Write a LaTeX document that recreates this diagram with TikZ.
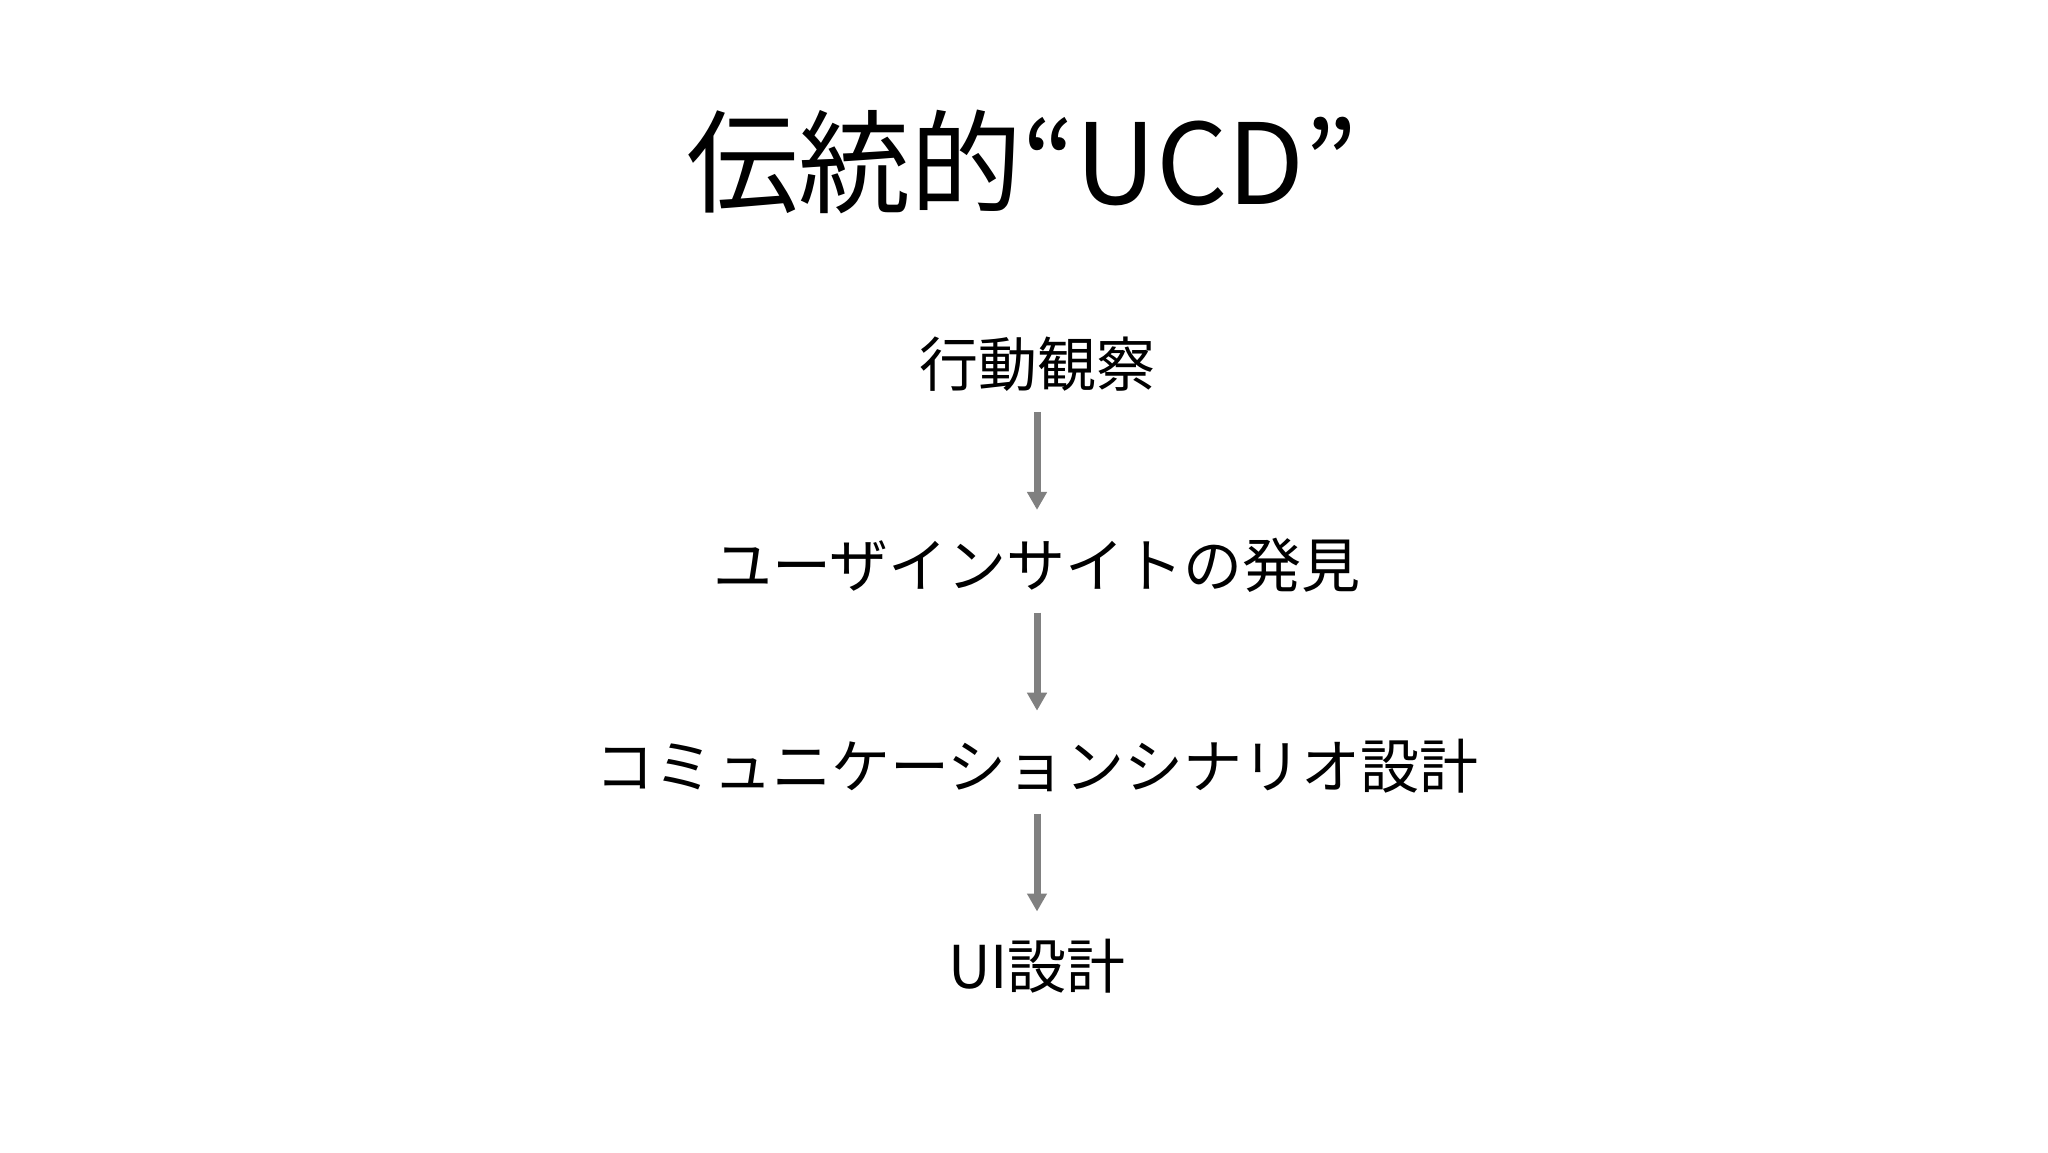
\documentclass[tikz,border=0pt]{standalone}
\usepackage{fontspec}
\setmainfont{Noto Sans CJK JP}
\usetikzlibrary{positioning, arrows.meta}
\definecolor{flowgray}{RGB}{128,128,128}
\tikzset{
  step node/.style={draw=none,fill=none,inner sep=0pt,
    font=\fontsize{29.5}{32}\selectfont,text height=26pt,text depth=3.5pt},
  flow/.style={draw=flowgray,line width=3.5pt,
    -{Triangle[width=9.5pt,length=9pt]}}
}
\begin{document}
\begin{tikzpicture}[x=1pt,y=1pt,node distance=70.5pt]
			\useasboundingbox[fill=white] (0,0) rectangle (1024,576);
			\node[draw=none,fill=none,font=\fontsize{56}{60}\selectfont] (title) at (511,495) {伝統的“UCD”};

			\node[step node] (obs) at (518.5,394) {行動観察};
			\node[step node, below=of obs] (insight) {ユーザインサイトの発見};
			\node[step node, below=of insight] (scenario) {コミュニケーションシナリオ設計};
			\node[step node, below=of scenario] (ui) {UI設計};

			\draw[flow, shorten <=9pt, shorten >=12.5pt] (obs) -- (insight);
			\draw[flow, shorten <=9pt, shorten >=12.5pt] (insight) -- (scenario);
			\draw[flow, shorten <=9pt, shorten >=12.5pt] (scenario) -- (ui);
		\end{tikzpicture}
\end{document}
